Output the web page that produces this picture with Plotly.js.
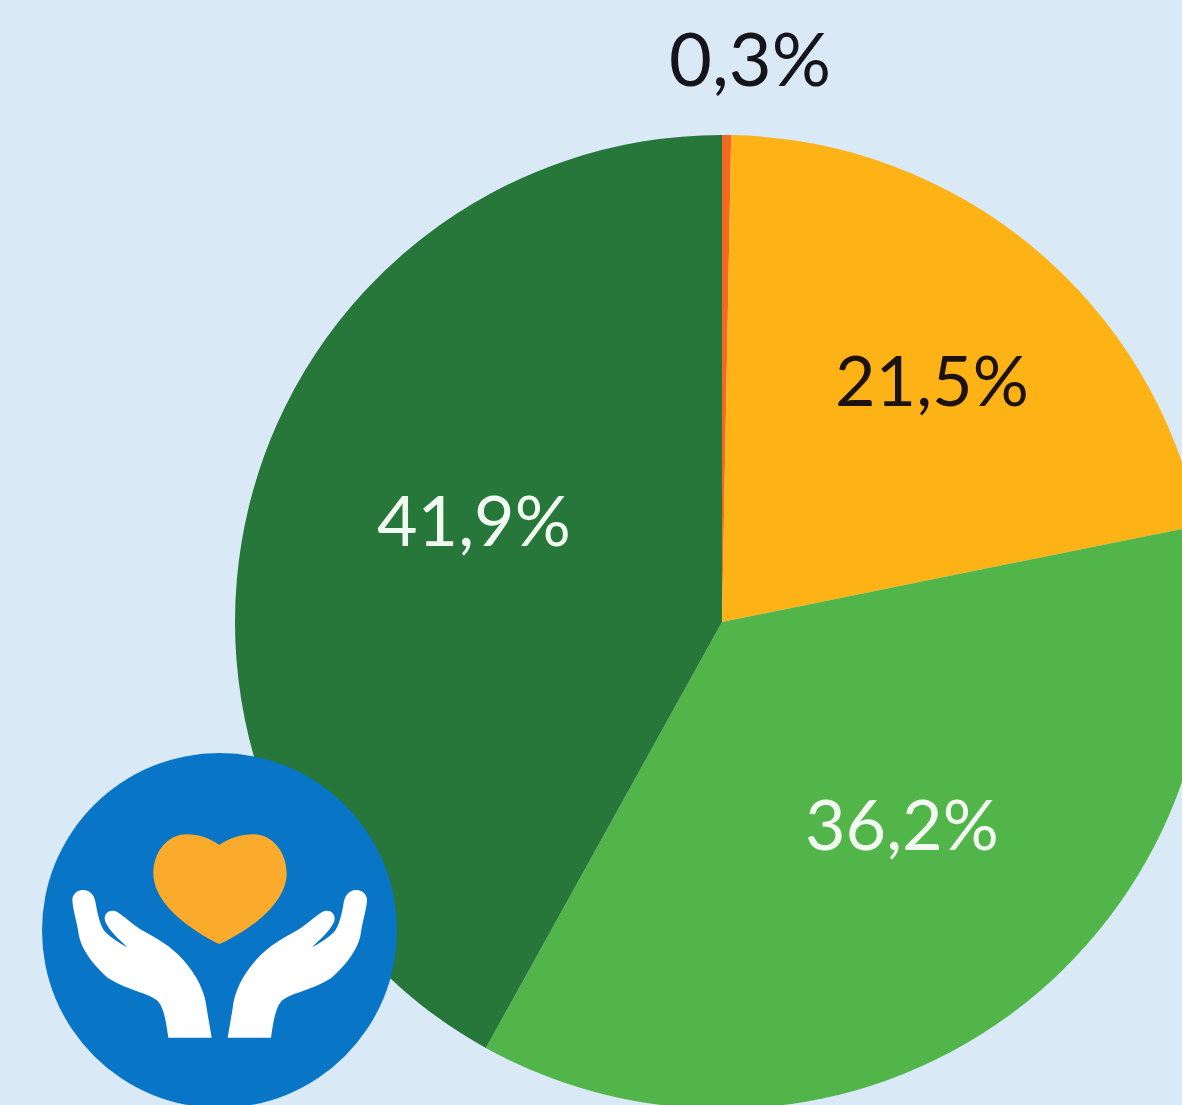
<!DOCTYPE html>
<html><head><meta charset="utf-8">
<script src="https://cdn.plot.ly/plotly-3.0.1.min.js"></script>
<style>html,body{margin:0;padding:0;width:1182px;height:1105px;overflow:hidden;background:#d9e9f6}#c{position:absolute;left:0;top:0}</style>
</head><body><div id="c"></div>
<script>
const categories=['a','b','c','d'];
const values=[0.3,21.5,36.2,41.9];
const labels=['0,3%','21,5%','36,2%','41,9%'];
const sliceColors=['#f26a21','#fdb316','#52b54a','#27763a'];
const labelColors=['#14141a','#1c1210','#f2fbf2','#f2fbf2'];
const labelX=[750,932,902,474];
const labelY=[58,379,823,519];
const labelSizes=[74,70,70,70];

const W=1444,H=1244,CX=722,CY=622,R=487;
const fx=x=>x/W, fy=y=>1-y/H;
// icon outlines drawn on a 3x grid over the crop at (30,745), converted to paper fractions
function path(s,mirror){return s.replace(/(-?[\d.]+),(-?[\d.]+)/g,(m,a,b)=>{
  const x=mirror?1138-(+a):+a;
  return fx(x/3+30).toFixed(5)+','+fy(+b/3+745).toFixed(5);});}
const heart='M568,300 C540,280 505,268 470,268 C410,268 370,325 370,385 C370,440 410,490 460,530 C500,560 540,585 568,597 C596,585 640,560 680,530 C730,490 770,440 770,385 C770,325 730,268 670,268 C635,268 596,280 568,300 Z';
const hand='M415,878 C408,830 402,790 385,770 C360,745 290,735 235,700 C190,660 150,610 145,560 C138,520 128,490 127,465 C127,445 145,433 162,435 C185,438 195,455 198,480 C203,510 212,545 225,560 C245,580 270,595 292,607 C270,585 240,560 228,535 C218,515 228,497 248,497 C265,497 285,520 330,552 C380,580 420,600 460,645 C500,690 525,740 530,790 L545,878 Z';
const blue='#0875c6';
Plotly.newPlot('c',[{
  type:'pie',labels:categories,values:values,sort:false,direction:'clockwise',rotation:0,
  marker:{colors:sliceColors,line:{width:0}},textinfo:'none',hoverinfo:'skip',showlegend:false,
  domain:{x:[(CX-R)/W,(CX+R)/W],y:[1-(CY+R)/H,1-(CY-R)/H]}
}],{
  width:W,height:H,margin:{l:0,r:0,t:0,b:0,pad:0},paper_bgcolor:'#d9e9f6',plot_bgcolor:'#d9e9f6',showlegend:false,
  annotations:labels.map((t,i)=>({text:t,xref:'paper',yref:'paper',x:fx(labelX[i]),y:fy(labelY[i]),xanchor:'center',yanchor:'middle',showarrow:false,
    font:{family:'Lato, sans-serif',size:labelSizes[i],color:labelColors[i],weight:400}})),
  shapes:[
    {type:'circle',xref:'paper',yref:'paper',x0:fx(42),x1:fx(397),y0:fy(753),y1:fy(1108),fillcolor:blue,line:{width:0},layer:'above'},
    {type:'path',xref:'paper',yref:'paper',path:path(heart),fillcolor:'#fbab2b',line:{width:0},layer:'above'},
    {type:'path',xref:'paper',yref:'paper',path:path(hand),fillcolor:'#ffffff',line:{width:0},layer:'above'},
    {type:'path',xref:'paper',yref:'paper',path:path(hand,true),fillcolor:'#ffffff',line:{width:0},layer:'above'}
  ]
},{staticPlot:true,displayModeBar:false});
</script></body></html>
